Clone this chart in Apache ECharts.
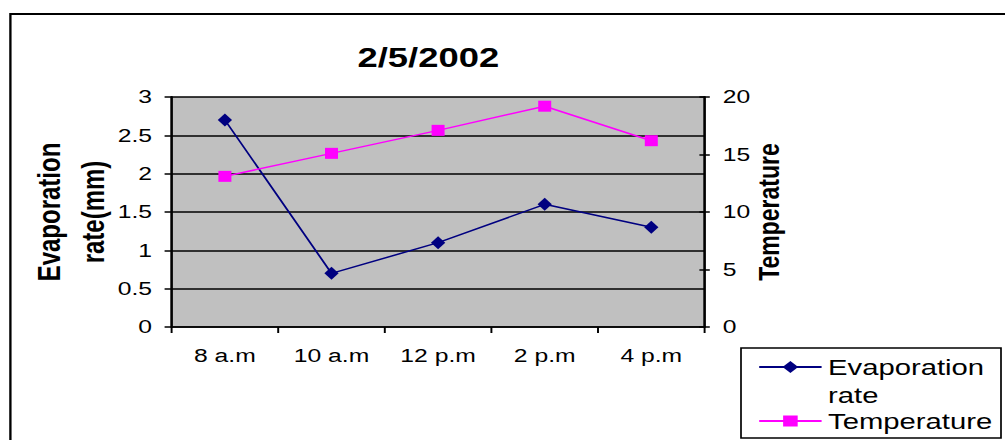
<!DOCTYPE html>
<html>
<head>
<meta charset="utf-8">
<script src="https://cdn.jsdelivr.net/npm/echarts@6.0.0/dist/echarts.min.js"></script>
<style>
  html, body { margin: 0; padding: 0; background: #fff; overflow: hidden; }
  /* the chart is laid out on a narrower canvas and widened, giving the broad lettering */
  #chart { width: 773px; height: 440px; transform: scaleX(1.3); transform-origin: 0 0; }
</style>
</head>
<body>
<div id="chart"></div>
<script>
// Readings for 2/5/2002
const times = ['8 a.m', '10 a.m', '12 p.m', '2 p.m', '4 p.m'];
const evaporation = [2.7, 0.7, 1.1, 1.6, 1.3];      // mm
const temperature = [13.1, 15.1, 17.1, 19.2, 16.2];

const FONT = "'Liberation Sans', Arial, sans-serif";
const BLACK = '#000';

const chart = echarts.init(document.getElementById('chart'), null, { renderer: 'svg' });

const labelStyle = { color: BLACK, fontFamily: FONT, fontSize: 19 };
const nameStyle = { color: BLACK, fontFamily: FONT, fontWeight: 'bold' };

chart.setOption({
  animation: false,
  title: {
    text: '2/5/2002',
    left: 275,
    top: 44,
    padding: 0,
    textStyle: { fontFamily: FONT, fontSize: 28, fontWeight: 'bold', color: BLACK }
  },
  grid: {
    left: 132, top: 97, width: 410, height: 230,
    show: true, backgroundColor: '#c0c0c0', borderWidth: 0,
    outerBoundsMode: 'none'
  },
  xAxis: {
    type: 'category',
    data: times,
    boundaryGap: true,
    axisLine: { lineStyle: { color: BLACK, width: 1.5 } },
    axisTick: { show: true, length: 6, lineStyle: { color: BLACK, width: 1.5 } },
    axisLabel: Object.assign({ margin: 19 }, labelStyle),
    splitLine: { show: false }
  },
  yAxis: [
    {
      type: 'value', min: 0, max: 3, interval: 0.5, position: 'left',
      name: 'Evaporation\nrate(mm)', nameLocation: 'middle', nameGap: 43, nameMoveOverlap: false,
      nameTextStyle: Object.assign({ fontSize: 24, lineHeight: 34 }, nameStyle),
      axisLine: { show: true, lineStyle: { color: BLACK, width: 2 } },
      axisTick: { show: true, length: 5.4, lineStyle: { color: BLACK, width: 1.5 } },
      axisLabel: Object.assign({ margin: 15 }, labelStyle),
      splitLine: { show: true, lineStyle: { color: BLACK, width: 1.5 } }
    },
    {
      type: 'value', min: 0, max: 20, interval: 5, position: 'right',
      name: 'Temperature', nameLocation: 'middle', nameGap: 38, nameMoveOverlap: false,
      nameTextStyle: Object.assign({ fontSize: 23 }, nameStyle),
      axisLine: { show: true, lineStyle: { color: BLACK, width: 2 } },
      axisTick: { show: true, length: 4, lineStyle: { color: BLACK, width: 1.5 } },
      axisLabel: Object.assign({ margin: 14 }, labelStyle),
      splitLine: { show: false }
    },
    {
      // inner half of the temperature ticks, so they cross the axis line
      type: 'value', min: 0, max: 20, interval: 5, position: 'right',
      axisLine: { show: false },
      axisTick: { show: true, inside: true, length: 4, lineStyle: { color: BLACK, width: 1.5 } },
      axisLabel: { show: false },
      splitLine: { show: false }
    }
  ],
  legend: [
    {
      // the wrapped name hangs below its key: a blank first line keeps
      // "Evaporation" level with the marker
      data: ['Evaporation rate'],
      left: 583, top: 325, padding: 0,
      itemWidth: 48, itemHeight: 15,
      selectedMode: false,
      formatter: () => '\nEvaporation\nrate',
      textStyle: { color: BLACK, fontFamily: FONT, fontSize: 22.5, lineHeight: 28 }
    },
    {
      data: ['Temperature'],
      left: 583, top: 407, padding: 0,
      itemWidth: 48, itemHeight: 14,
      selectedMode: false,
      textStyle: { color: BLACK, fontFamily: FONT, fontSize: 22.5, lineHeight: 28 }
    }
  ],
  graphic: [
    {
      type: 'rect', silent: true,
      shape: { x: 8, y: 14, width: 800, height: 500 },
      style: { fill: 'none', stroke: BLACK, lineWidth: 1.8 }
    },
    {
      type: 'rect', silent: true,
      shape: { x: 570, y: 348, width: 200, height: 90 },
      style: { fill: 'none', stroke: BLACK, lineWidth: 1.3 }
    }
  ],
  series: [
    {
      name: 'Evaporation rate',
      type: 'line',
      yAxisIndex: 0,
      data: evaporation,
      symbol: 'diamond',
      symbolSize: [11, 13],
      lineStyle: { color: '#000080', width: 1.5 },
      itemStyle: { color: '#000080' }
    },
    {
      name: 'Temperature',
      type: 'line',
      yAxisIndex: 1,
      data: temperature,
      symbol: 'rect',
      symbolSize: [10, 11],
      lineStyle: { color: '#ff00ff', width: 1.5 },
      itemStyle: { color: '#ff00ff' }
    }
  ]
});
</script>
</body>
</html>
